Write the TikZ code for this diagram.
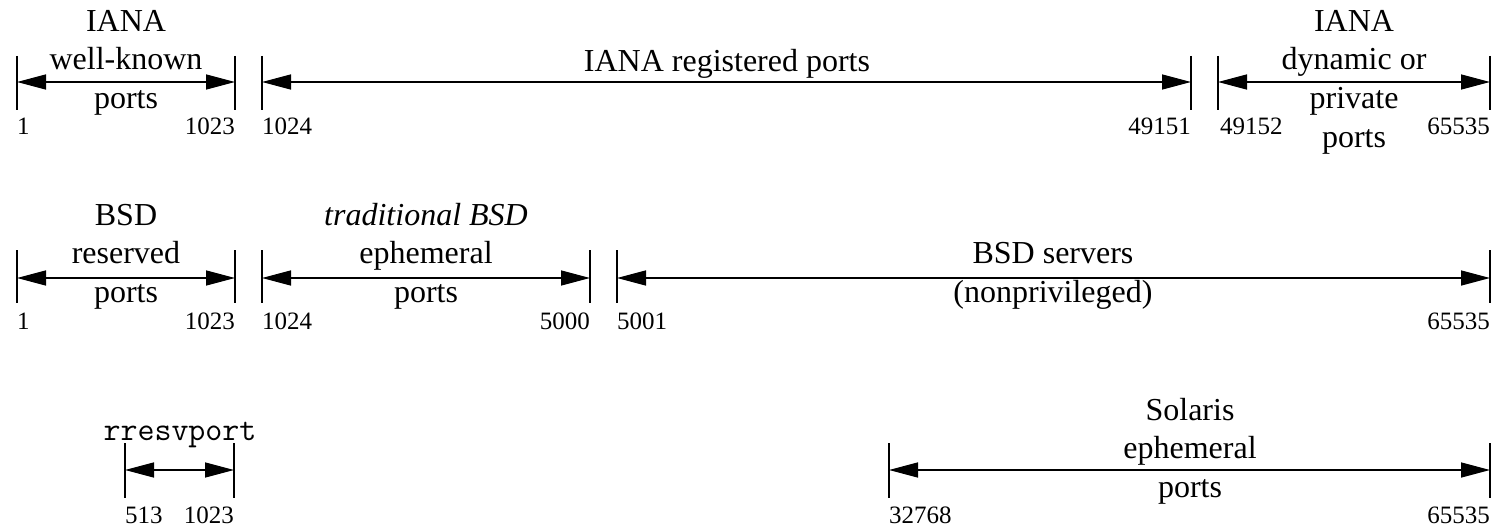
\documentclass[tikz,border=0pt]{standalone}
\usepackage{fontspec}
\setmainfont{Liberation Serif}
\usetikzlibrary{arrows.meta}
\begin{document}
\begin{tikzpicture}[x=1pt,y=-1pt,
  lbl/.style={anchor=base, inner sep=0pt, font=\fontsize{32}{38}\selectfont},
  num/.style={inner sep=0pt, font=\fontsize{25}{29}\selectfont},
  numl/.style={num, anchor=base west},
  numr/.style={num, anchor=base east},
  tickline/.style={line width=1.3pt},
  span/.style={line width=1.5pt, {Triangle[length=29pt,width=15pt]}-{Triangle[length=29pt,width=15pt]}}]
\useasboundingbox (0,0) rectangle (1499,527);

% row 1 ticks
\foreach \n/\x in {r1a/17, r1b/235, r1c/262, r1d/1191, r1e/1218, r1f/1490} {
  \draw[tickline] (\x,56) coordinate (\n t) -- (\x,110) coordinate (\n b);
  \coordinate (\n) at (\x,82);
}
% row 2 ticks
\foreach \n/\x in {r2a/17, r2b/235, r2c/262, r2d/590, r2e/617, r2f/1490} {
  \draw[tickline] (\x,250) coordinate (\n t) -- (\x,303) coordinate (\n b);
  \coordinate (\n) at (\x,278);
}
% row 3 ticks
\foreach \n/\x in {r3a/125, r3b/234, r3c/889, r3d/1490} {
  \draw[tickline] (\x,443) coordinate (\n t) -- (\x,498) coordinate (\n b);
  \coordinate (\n) at (\x,470);
}

% spans
\draw[span] (r1a) -- (r1b);
\draw[span] (r1c) -- (r1d);
\draw[span] (r1e) -- (r1f);
\draw[span] (r2a) -- (r2b);
\draw[span] (r2c) -- (r2d);
\draw[span] (r2e) -- (r2f);
\draw[span] (r3a) -- (r3b);
\draw[span] (r3c) -- (r3d);

% row 1 labels
\node[lbl] (l1a1) at (126,32) {IANA};
\node[lbl] (l1a2) at (126,70) {well-known};
\node[lbl] (l1a3) at (126,108) {ports};
\node[lbl] (l1b1) at (727,72) {IANA registered ports};
\node[lbl] (l1c1) at (1354,32) {IANA};
\node[lbl] (l1c2) at (1354,70) {dynamic or};
\node[lbl] (l1c3) at (1354,108) {private};
\node[lbl] (l1c4) at (1354,147) {ports};
\node[numl] (n1a) at (17,134) {1};
\node[numr] (n1b) at (235,134) {1023};
\node[numl] (n1c) at (262,134) {1024};
\node[numr] (n1d) at (1191,134) {49151};
\node[numl] (n1e) at (1220,134) {49152};
\node[numr] (n1f) at (1490,134) {65535};

% row 2 labels
\node[lbl] (l2a1) at (126,225) {BSD};
\node[lbl] (l2a2) at (126,263) {reserved};
\node[lbl] (l2a3) at (126,302) {ports};
\node[lbl] (l2b1) at (426,225) {\itshape traditional BSD};
\node[lbl] (l2b2) at (426,263) {ephemeral};
\node[lbl] (l2b3) at (426,302) {ports};
\node[lbl] (l2c1) at (1053,263) {BSD servers};
\node[lbl] (l2c2) at (1053,302) {(nonprivileged)};
\node[numl] (n2a) at (17,329) {1};
\node[numr] (n2b) at (235,329) {1023};
\node[numl] (n2c) at (262,329) {1024};
\node[numr] (n2d) at (590,329) {5000};
\node[numl] (n2e) at (617,329) {5001};
\node[numr] (n2f) at (1490,329) {65535};

% row 3 labels
\node[anchor=base, inner sep=0pt, font=\ttfamily\fontsize{33}{38}\selectfont] (l3a1) at (180,440) {rresvport};
\node[lbl] (l3b1) at (1190,420) {Solaris};
\node[lbl] (l3b2) at (1190,458) {ephemeral};
\node[lbl] (l3b3) at (1190,497) {ports};
\node[numl] (n3a) at (125,523) {513};
\node[numr] (n3b) at (234,523) {1023};
\node[numl] (n3c) at (889,523) {32768};
\node[numr] (n3d) at (1490,523) {65535};
\end{tikzpicture}
\end{document}
